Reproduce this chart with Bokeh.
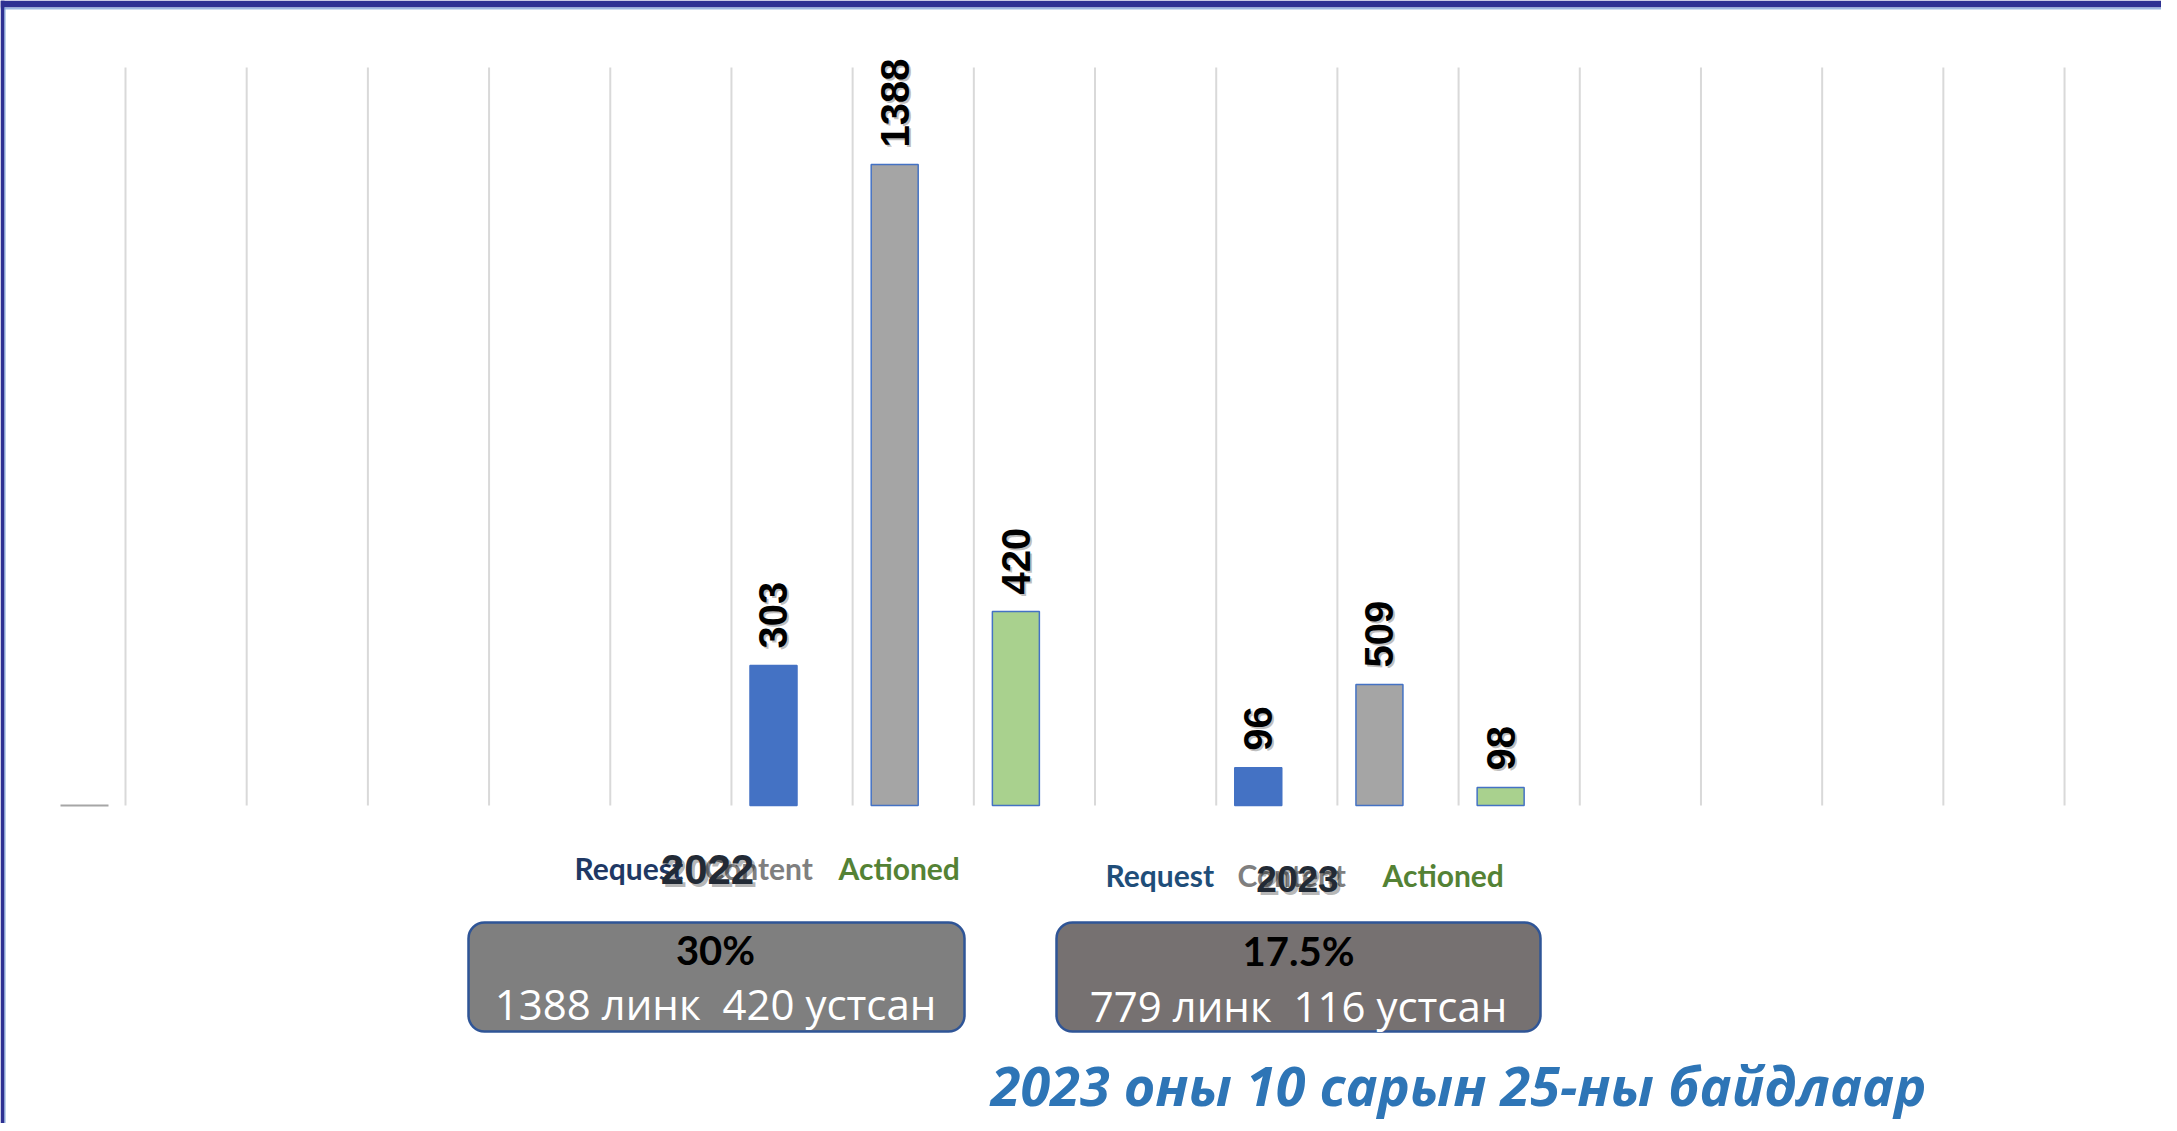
import math
from bokeh.plotting import figure
from bokeh.models import Range1d, ColumnDataSource, LabelSet
from bokeh.core.properties import value
from bokeh.embed import file_html
from bokeh.resources import INLINE

# ---------------- data ----------------
groups = ["2022", "2023"]
series = ["Request", "Content", "Actioned"]
values_2022 = [303, 1388, 420]
labels_2023 = [96, 509, 98]
heights_2023 = [82, 262, 39]      # bar heights as drawn (same scale as 2022)
series_fill = ["#4472C4", "#A5A5A5", "#A9D18E"]
label_colors_2022 = ["#203864", "#7F7F7F", "#548235"]
label_colors_2023 = ["#1F4E79", "#7F7F7F", "#548235"]
summary_pct = ["30%", "17.5%"]
summary_txt = ["1388 линк\u00a0 420 устсан", "779 линк\u00a0 116 устсан"]
footer = "2023 оны 10 сарын 25-ны байдлаар"
slots_2022 = [5, 6, 7]
slots_2023 = [9, 10, 11]
n_grid = 17

# ---------------- geometry helpers (reference pixels -> data) ----------------
W, H = 2161, 1123
SLOT = 121.19
G0 = 125.0
BASE = 805.0
K = 0.4618


def X(px):
    return (px - G0) / SLOT


def Y(py):
    return (BASE - py) / K


BAR_SHIFT = X(773) - 5
BAR_W = 47 / SLOT

p = figure(width=W, height=H, output_backend="svg", toolbar_location=None,
           x_range=Range1d(X(0), X(W)), y_range=Range1d(Y(H), Y(0)),
           x_axis_location=None, y_axis_location=None, min_border=0)
p.outline_line_color = None
p.grid.visible = False
p.background_fill_color = "white"
p.border_fill_color = "white"

# slide decoration: top and left bands
p.quad(left=[X(0)], right=[X(W)], top=[Y(0)], bottom=[Y(7)],
       fill_color="#2E3192", line_color=None)
p.quad(left=[X(0)], right=[X(W)], top=[Y(7)], bottom=[Y(9)],
       fill_color="#9DB9E0", line_color=None)
p.quad(left=[X(0)], right=[X(4)], top=[Y(0)], bottom=[Y(H)],
       fill_color="#2E3192", line_color=None)
p.quad(left=[X(4)], right=[X(5)], top=[Y(7)], bottom=[Y(H)],
       fill_color="#7FA6D8", line_color=None)

# vertical gridlines
gx = list(range(n_grid))
p.segment(x0=gx, y0=[0] * n_grid, x1=gx, y1=[Y(67)] * n_grid,
          line_color="#D9D9D9", line_width=2)
# small stub line at left
p.segment(x0=[X(60)], y0=[0], x1=[X(108)], y1=[0], line_color="#A6A6A6", line_width=2)

# bars
xs = [s + BAR_SHIFT for s in slots_2022] + [s + BAR_SHIFT for s in slots_2023]
tops = values_2022 + heights_2023
texts = [str(v) for v in values_2022] + [str(v) for v in labels_2023]
src = ColumnDataSource(dict(x=xs, top=tops, text=texts, fill=series_fill * 2))
p.vbar(x="x", top="top", bottom=0, width=BAR_W, source=src,
       fill_color="fill", line_color="#4472C4", line_width=1.5)

shadow = LabelSet(x="x", y="top", text="text", source=src, angle=90, angle_units="deg",
                  x_offset=2, y_offset=15, text_align="left", text_baseline="middle",
                  text_font=value("Liberation Sans"), text_font_style="bold",
                  text_font_size="40px", text_color="#000000", text_alpha=0.25)
lbl = LabelSet(x="x", y="top", text="text", source=src, angle=90, angle_units="deg",
               x_offset=0, y_offset=17, text_align="left", text_baseline="middle",
               text_font=value("Liberation Sans"), text_font_style="bold",
               text_font_size="40px", text_color="#000000")
p.add_layout(shadow)
p.add_layout(lbl)

# category labels
cat_x_2022 = [574, 704, 838]
cat_x_2023 = [1105, 1237, 1382]
p.text(x=[X(v) for v in cat_x_2022], y=[Y(867)] * 3, text=series,
       text_color=label_colors_2022, text_font=value("Lato"), text_font_style="bold",
       text_font_size="30px", text_align="left", text_baseline="middle")
p.text(x=[X(v) for v in cat_x_2023], y=[Y(874)] * 3, text=series,
       text_color=label_colors_2023, text_font=value("Lato"), text_font_style="bold",
       text_font_size="30px", text_align="left", text_baseline="middle")

# year labels with shadow
year_x = [X(707), X(1297)]
year_y = [Y(869), Y(878)]
year_size = ["42px", "37px"]
for i in range(2):
    p.text(x=[year_x[i]], y=[year_y[i]], text=[groups[i]], x_offset=3, y_offset=3,
           text_color="#000000", text_alpha=0.3, text_font=value("Liberation Sans"),
           text_font_style="bold", text_font_size=year_size[i], text_align="center",
           text_baseline="middle")
    p.text(x=[year_x[i]], y=[year_y[i]], text=[groups[i]],
           text_color="#222A35", text_font=value("Liberation Sans"),
           text_font_style="bold", text_font_size=year_size[i], text_align="center",
           text_baseline="middle")

# summary boxes
box_l = [X(468), X(1056)]
box_r = [X(964), X(1540)]
box_t = [Y(922), Y(922)]
box_b = [Y(1031), Y(1031)]
p.quad(left=box_l, right=box_r, top=box_t, bottom=box_b,
       fill_color=["#7F7F7F", "#767171"], line_color="#2F5597", line_width=2.5,
       border_radius=16)
cx = [X(715), X(1298)]
p.text(x=cx, y=[Y(949), Y(950)], text=summary_pct, text_color="#000000",
       text_font=value("Lato"), text_font_style="bold", text_font_size="40px",
       text_align="center", text_baseline="middle")
p.text(x=cx, y=[Y(1003), Y(1005)], text=summary_txt, text_color="#FFFFFF",
       text_font=value("Open Sans"), text_font_size="42px",
       text_align="center", text_baseline="middle")

# footer
p.text(x=[X(1458)], y=[Y(1084)], text=[footer], text_color="#2E75B6",
       text_font=value("Open Sans"), text_font_style="bold italic", text_font_size="54px",
       text_align="center", text_baseline="middle")

open("out.html", "w").write(file_html(p, INLINE))
